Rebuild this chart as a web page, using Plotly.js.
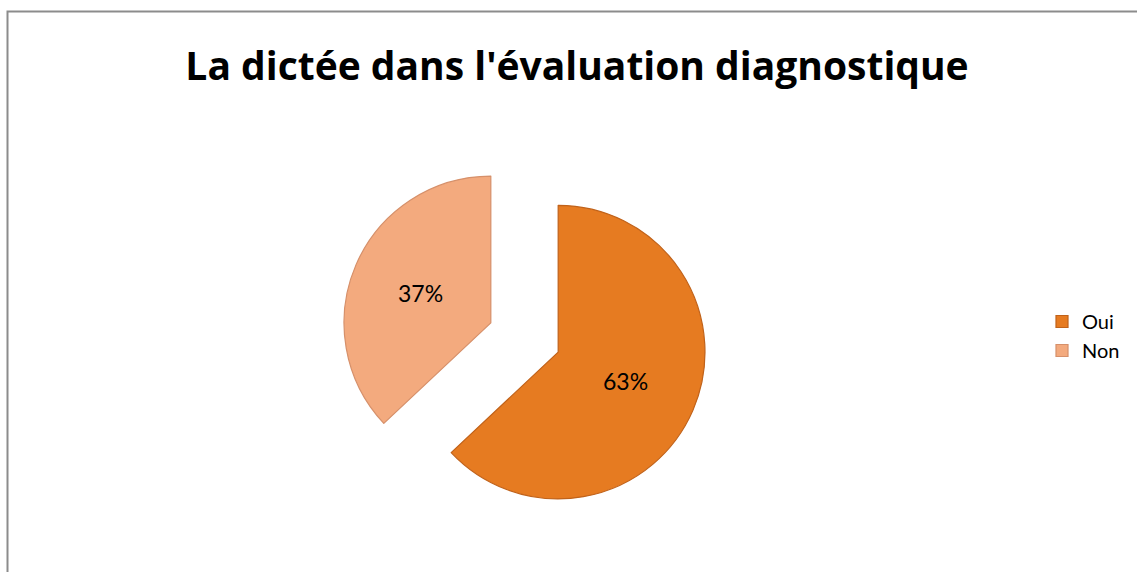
<!DOCTYPE html>
<html>
<head>
<meta charset="utf-8">
<script src="https://cdn.plot.ly/plotly-3.0.1.min.js"></script>
<style>html,body{margin:0;padding:0;background:#fff;}#chart{width:1137px;height:572px;}</style>
</head>
<body>
<div id="chart"></div>
<script>
const categories = ["Oui", "Non"];
const values = [63, 37];
const sliceColors = ["#E67B21", "#F3AA7E"];
const sliceEdges = ["#C0621A", "#D6906A"];
const titleText = "La dictée dans l'évaluation diagnostique";

const W = 1137, H = 572;
const data = [{
  type: "pie",
  labels: categories,
  values: values,
  sort: false,
  direction: "clockwise",
  rotation: 0,
  pull: [0.25, 0.25],
  marker: {colors: sliceColors, line: {color: sliceEdges, width: 1.2}},
  textinfo: "percent",
  texttemplate: "%{percent:.0%}",
  textposition: "inside",
  insidetextfont: {family: "Lato, 'Open Sans', sans-serif", size: 23, color: "#000"},
  hoverinfo: "label+percent",
  domain: {x: [341 / W, 708 / W], y: [1 - 521 / H, 1 - 154 / H]}
}];

const layout = {
  width: W, height: H,
  margin: {l: 0, r: 0, t: 0, b: 0, autoexpand: false},
  paper_bgcolor: "#fff",
  font: {family: "Lato, 'Open Sans', sans-serif", color: "#000"},
  title: {
    text: "<b>" + titleText + "</b>",
    font: {family: "'Open Sans', Lato, sans-serif", size: 39, color: "#000"},
    x: 577 / W, xanchor: "center", xref: "paper",
    y: 1 - 66 / H, yanchor: "middle", yref: "paper"
  },
  showlegend: true,
  legend: {
    x: 1042 / W, xanchor: "left", y: 1 - 302 / H, yanchor: "top",
    font: {family: "Lato, 'Open Sans', sans-serif", size: 20, color: "#000"},
    bgcolor: "rgba(0,0,0,0)", itemwidth: 30
  },
  shapes: [
    {type: "path", xref: "paper", yref: "paper",
     path: "M " + (7.5 / W) + " 0 L " + (7.5 / W) + " " + (1 - 11.5 / H) + " L 1 " + (1 - 11.5 / H),
     line: {color: "#8C8C8C", width: 2}}
  ]
};

Plotly.newPlot("chart", data, layout, {displayModeBar: false, staticPlot: true});
</script>
</body>
</html>
